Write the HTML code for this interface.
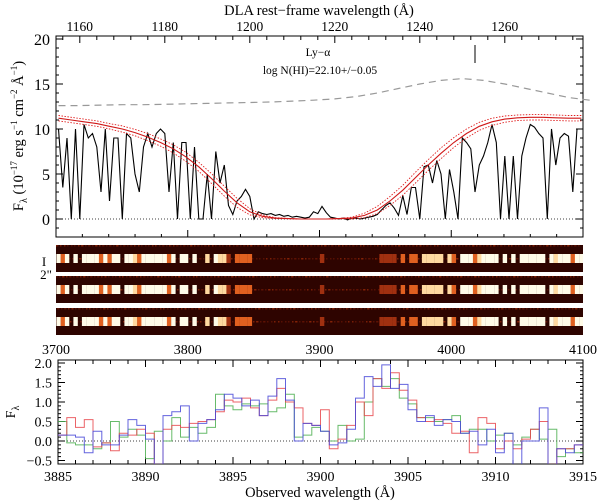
<!DOCTYPE html>
<html><head><meta charset="utf-8">
<style>
html,body{margin:0;padding:0;background:#fff;}
svg{display:block;font-family:"Liberation Serif","DejaVu Serif",serif;}
</style></head>
<body>
<svg id="fig" width="600" height="501" viewBox="0 0 600 501" xmlns="http://www.w3.org/2000/svg">
<defs><clipPath id="cstrip"><rect x="56" y="240" width="527" height="100"/></clipPath></defs>
<g id="topPanel"></g>
<g id="stripsPanel"></g>
<g id="stripsLabels"></g>
<g id="botPanel"></g>
</svg>
<script>
// ---------- top panel data ----------
const restStart = 1155; // first rest wavelength of flux array, 1 A step
const fluxValues = [
 10,3.5,9,0,10,0,10.5,9,9.5,8,          // 1155-1164
 3,10,2,9,9,0,9.5,9,5,3,                // 1165-1174
 8,9.5,8,9.5,10,9.5,3,8.5,0,8.5,        // 1175-1184
 8.5,0,8,0,0,5,0,7.5,4,6,               // 1185-1194
 1.5,0.5,2,2.5,3.3,2.5,0,0.8,0.6,0.5,   // 1195-1204
 0.6,0.4,0.5,0.3,0.4,0.2,0.3,0.2,0.1,0.2, // 1205-1214
 0.8,0.6,1.4,0.7,0.2,0.1,0,0.1,-0.1,0.1,  // 1215-1224
 0.1,0,0.1,0.2,0.3,0.5,1.0,1.5,1.8,1.2,   // 1225-1234
 0.4,2.6,0.5,3.5,3.5,0,5.8,6,4,6.5,       // 1235-1244
 5,0,5.5,3,0,9,8.5,7.8,3,6,               // 1245-1254
 7,8.5,10.5,8.5,0,7,0,7,0,7,              // 1255-1264
 9,10.5,10.2,9.5,9,0,10,6,9,9.5,          // 1265-1274
 9.2,3,10,10];                            // 1275-1278
const modelStart = 1155; // 3 A step
const modelValues = [11.2,11.0,10.8,10.6,10.3,10.0,9.6,9.1,8.5,7.8,6.9,5.8,4.5,3.1,1.8,0.8,0.3,0.1,0.05,0,0,0,0.05,0.1,0.4,1.0,2.0,3.2,4.6,6.0,7.3,8.5,9.5,10.3,10.8,11.1,11.25,11.3,11.3,11.25,11.2,11.2];
const modelErr = [0.3,0.3,0.3,0.3,0.3,0.35,0.35,0.4,0.4,0.45,0.5,0.5,0.55,0.55,0.5,0.35,0.15,0.05,0.02,0,0,0,0.02,0.1,0.25,0.4,0.5,0.55,0.6,0.6,0.6,0.55,0.5,0.45,0.4,0.35,0.3,0.3,0.3,0.3,0.3,0.3];
const contStart = 1155; // 5 A step
const contValues = [12.6,12.6,12.65,12.7,12.7,12.75,12.8,12.85,12.9,12.95,13.0,13.1,13.2,13.35,13.6,14.0,14.5,15.0,15.4,15.6,15.4,15.0,14.5,14.0,13.5,13.2];
const fluxTicks = [0,5,10,15,20];
const restTicks = [1160,1180,1200,1220,1240,1260];
const obsTicks = [3700,3800,3900,4000,4100];
// ---------- bottom panel data ----------
const binStart = 3885, binWidth = 0.5;
const redValues = [0.15,0.6,0.35,0.55,-0.15,-0.05,-0.25,0.2,0.15,0.3, 0.2,-0.6,0.3,0.4,0.35,0.45,0.5,0.55,0.75,1.05, 1.0,1.1,0.85,0.65,1.05,1.35,1.0,0.85,0.45,0.4, 0.8,-0.2,0.05,0.4,1.0,0.65,1.6,1.35,1.75,1.3, 1.05,0.6,0.5,0.55,0.45,0.2,0.25,-0.3,0.6,0.45, -0.2,0.0,-0.2,0.05,0.3,0.5,-0.6,-0.2,-0.2,-0.1];
const blueValues = [0.15,0.15,0.1,-0.3,0.25,-0.1,-0.1,0.15,0.55,0.4, 0.05,-0.6,0.65,0.75,0.9,0.0,0.45,0.55,0.8,1.2, 1.1,0.9,1.05,0.65,1.15,1.6,1.05,0.0,0.45,0.4, 0.25,-0.1,-0.05,0.3,1.1,1.65,1.4,1.95,1.35,1.45, 0.8,0.5,0.65,0.4,0.55,0.5,0.2,0.25,-0.1,0.3, -0.3,0.2,-0.7,0.0,0.0,0.85,-0.7,-0.2,-0.3,-0.1];
const greenValues = [0.5,-0.05,-0.1,-0.1,-0.2,-0.05,0.5,0.1,0.3,0.15, -0.45,0.25,0.0,0.6,0.1,0.35,0.2,0.35,1.2,0.9, 0.8,0.95,0.9,0.95,0.75,0.85,1.2,0.1,0.15,0.35, 0.25,0.0,0.4,0.0,0.05,1.0,1.6,1.4,1.6,1.1, 0.95,0.6,0.6,0.5,0.55,0.65,0.2,0.3,0.3,0.0, 0.15,0.2,-0.1,0.1,0.3,0.05,0.3,-0.4,-0.2,-0.3];
const botYTicks = ["2.0","1.5","1.0","0.5","0.0","-0.5"];
const botXTicks = [3885,3890,3895,3900,3905,3910,3915];

const NS="http://www.w3.org/2000/svg";
function mk(parent,tag,attrs,text){const e=document.createElementNS(NS,tag);for(const k in attrs)e.setAttribute(k,attrs[k]);if(text!==undefined)e.textContent=text;parent.appendChild(e);return e;}

const L=56,R=583;
const xRest=l=>L+(l-1154.4)*4.25;
const yTop=f=>219-f*9;
const xObs=o=>L+(o-3700)*(R-L)/400;
const xB=o=>58+(o-3885)*(583-58)/30;
const yB=v=>441-v*39;

// ---- top panel ----
const gTop=document.getElementById('topPanel');
let fr=mk(gTop,'rect',{x:L,y:36,width:R-L,height:201,fill:'none',stroke:'#000','stroke-width':1});

let z=mk(gTop,'line',{x1:L,x2:R,y1:yTop(0),y2:yTop(0),stroke:'#000','stroke-dasharray':'1,2','stroke-width':0.8});

fluxTicks.forEach(t=>{
  mk(gTop,'line',{x1:L,x2:L+7,y1:yTop(t),y2:yTop(t),stroke:'#000'});
  mk(gTop,'line',{x1:R,x2:R-7,y1:yTop(t),y2:yTop(t),stroke:'#000'});
  const tx=mk(gTop,'text',{x:L-6,y:yTop(t)+6,'text-anchor':'end','font-size':16},String(t));
  
});
for(let f=-1;f<=20;f++){ if(f%5){mk(gTop,'line',{x1:L,x2:L+3,y1:yTop(f),y2:yTop(f),stroke:'#000'});mk(gTop,'line',{x1:R,x2:R-3,y1:yTop(f),y2:yTop(f),stroke:'#000'});}}
restTicks.forEach(t=>{
  mk(gTop,'line',{x1:xRest(t),x2:xRest(t),y1:36,y2:43,stroke:'#000'});
  const tx=mk(gTop,'text',{x:xRest(t),y:31,'text-anchor':'middle','font-size':13.5},String(t));
  
});
for(let l=1156;l<1278;l+=4){ if((l-1160)%20){mk(gTop,'line',{x1:xRest(l),x2:xRest(l),y1:36,y2:40,stroke:'#000'});}}
for(let o=3700;o<=4100;o+=20){const len=o%100?3:7;mk(gTop,'line',{x1:xObs(o),x2:xObs(o),y1:237,y2:237-len,stroke:'#000'});}
let t1=mk(gTop,'text',{x:319,y:15,'text-anchor':'middle','font-size':14.5},'DLA rest\u2212frame wavelength (\u00C5)');

let yl=mk(gTop,'text',{transform:'translate(23,136) rotate(-90)','text-anchor':'middle','font-size':14.5});

yl.innerHTML='F<tspan font-size="10" dy="4">\u03BB</tspan><tspan dy="-4"> (10</tspan><tspan font-size="9" dy="-6">\u221217</tspan><tspan dy="6"> erg s</tspan><tspan font-size="9" dy="-6">\u22121</tspan><tspan dy="6"> cm</tspan><tspan font-size="9" dy="-6">\u22122</tspan><tspan dy="6"> \u00C5</tspan><tspan font-size="9" dy="-6">\u22121</tspan><tspan dy="6">)</tspan>';
let a1=mk(gTop,'text',{x:318,y:56,'text-anchor':'middle','font-size':11.5},'Ly\u2212\u03B1');

let a2=mk(gTop,'text',{x:320,y:74,'text-anchor':'middle','font-size':11.5},'log N(HI)=22.10+/\u22120.05');

let mkr=mk(gTop,'line',{x1:475,x2:475,y1:45,y2:63,stroke:'#000'});

let cp=contValues.map((v,i)=>xRest(contStart+5*i).toFixed(1)+','+yTop(v).toFixed(1)).join(' ');
let cl=mk(gTop,'polyline',{points:cp,fill:'none',stroke:'#999','stroke-width':1.2,'stroke-dasharray':'7,5'});

const defs=mk(gTop,'defs',{});const cpth=mk(defs,'clipPath',{id:'ctop'});mk(cpth,'rect',{x:L,y:36,width:R-L,height:201});
let fp=fluxValues.map((v,i)=>xRest(restStart+i).toFixed(1)+','+yTop(v).toFixed(1)).join(' ');
let fl=mk(gTop,'polyline',{points:fp,fill:'none',stroke:'#000','stroke-width':1.1,'clip-path':'url(#ctop)'});

function mpts(sign){return modelValues.map((v,i)=>xRest(modelStart+3*i).toFixed(1)+','+yTop(v+sign*modelErr[i]).toFixed(1)).join(' ');}
let mh=mk(gTop,'polyline',{points:mpts(1),fill:'none',stroke:'#e02020','stroke-width':0.9,'stroke-dasharray':'1.5,1.5','clip-path':'url(#ctop)'});

let ml=mk(gTop,'polyline',{points:mpts(-1),fill:'none',stroke:'#e02020','stroke-width':0.9,'stroke-dasharray':'1.5,1.5','clip-path':'url(#ctop)'});

let mm=mk(gTop,'polyline',{points:mpts(0),fill:'none',stroke:'#d01818','stroke-width':1.1,'clip-path':'url(#ctop)'});


// ---- 2D strips ----
const gStrips=document.getElementById('stripsPanel');
gStrips.setAttribute('clip-path','url(#cstrip)');
const stripY=[245,276,308];
stripY.forEach((y0,si)=>{
  let bg=mk(gStrips,'rect',{x:L,y:y0,width:R-L,height:27,fill:'#2e0400'});
  
  for(let k=0;k<400;k++){const h=(k*7919+si*131)%1000;const xx=L+((k*37+si*11)%525);const yy=y0+((h*13)%26);
    mk(gStrips,'rect',{x:xx,y:yy,width:1.5,height:1.5,fill:h%3?'#6a1604':'#9a2a08',opacity:0.7});}
  fluxValues.forEach((v,i)=>{
    const x=xRest(restStart+i-0.5);
    let col=null;
    if(v>=7)col='#fffbe8';else if(v>=4)col='#ffd9a0';else if(v>=2)col='#e06020';else if(v>=0.9)col='#a03010';
    if(col){const c=mk(gStrips,'rect',{x:x.toFixed(1),y:y0+9,width:4.4,height:9,fill:col});
      }
  });
});
const gLab=document.getElementById('stripsLabels');
let sb=mk(gLab,'text',{x:44,y:266,'text-anchor':'middle','font-size':13},'I');

let sbl=mk(gLab,'text',{x:46,y:279,'text-anchor':'middle','font-size':13},'2"');

obsTicks.forEach(t=>{const tx=mk(gLab,'text',{x:xObs(t),y:354,'text-anchor':'middle','font-size':14},String(t));
  });

// ---- bottom panel ----
const gBot=document.getElementById('botPanel');
let bf=mk(gBot,'rect',{x:58,y:360,width:525,height:104,fill:'none',stroke:'#000'});

const bd=mk(gBot,'defs',{});const bcp=mk(bd,'clipPath',{id:'cbot'});mk(bcp,'rect',{x:58,y:360,width:525,height:104});
let bz=mk(gBot,'line',{x1:58,x2:583,y1:yB(0),y2:yB(0),stroke:'#000','stroke-dasharray':'1,2','stroke-width':0.8});

botYTicks.forEach(s=>{const v=parseFloat(s);
  mk(gBot,'line',{x1:58,x2:65,y1:yB(v),y2:yB(v),stroke:'#000'});mk(gBot,'line',{x1:583,x2:576,y1:yB(v),y2:yB(v),stroke:'#000'});
  const tx=mk(gBot,'text',{x:52,y:yB(v)+5,'text-anchor':'end','font-size':14},s.replace('-','\u2212'));
  });
for(let v=-0.5;v<=2.0;v+=0.1){mk(gBot,'line',{x1:58,x2:61,y1:yB(v),y2:yB(v),stroke:'#000'});mk(gBot,'line',{x1:583,x2:580,y1:yB(v),y2:yB(v),stroke:'#000'});}
botXTicks.forEach(t=>{mk(gBot,'line',{x1:xB(t),x2:xB(t),y1:464,y2:457,stroke:'#000'});mk(gBot,'line',{x1:xB(t),x2:xB(t),y1:360,y2:367,stroke:'#000'});
  const tx=mk(gBot,'text',{x:xB(t),y:481,'text-anchor':'middle','font-size':14},String(t));
  });
for(let t=3886;t<3915;t++){if(t%5){mk(gBot,'line',{x1:xB(t),x2:xB(t),y1:464,y2:460,stroke:'#000'});mk(gBot,'line',{x1:xB(t),x2:xB(t),y1:360,y2:364,stroke:'#000'});}}
let bt=mk(gBot,'text',{x:320,y:497,'text-anchor':'middle','font-size':14.5},'Observed wavelength (\u00C5)');

let byl=mk(gBot,'text',{transform:'translate(15,412) rotate(-90)','text-anchor':'middle','font-size':14});

byl.innerHTML='F<tspan font-size="10" dy="4">\u03BB</tspan>';
function steps(vals){let p=[];vals.forEach((v,i)=>{const a=xB(binStart+i*binWidth),b=xB(binStart+(i+1)*binWidth);p.push(a.toFixed(1)+','+yB(v).toFixed(1));p.push(b.toFixed(1)+','+yB(v).toFixed(1));});return p.join(' ');}
let sg=mk(gBot,'polyline',{points:steps(greenValues),fill:'none',stroke:'#4caf50','stroke-width':1,'clip-path':'url(#cbot)',opacity:0.85});

let sr=mk(gBot,'polyline',{points:steps(redValues),fill:'none',stroke:'#e8484c','stroke-width':1,'clip-path':'url(#cbot)',opacity:0.85});

let sbl2=mk(gBot,'polyline',{points:steps(blueValues),fill:'none',stroke:'#4848d8','stroke-width':1,'clip-path':'url(#cbot)',opacity:0.85});

</script>
</body></html>
